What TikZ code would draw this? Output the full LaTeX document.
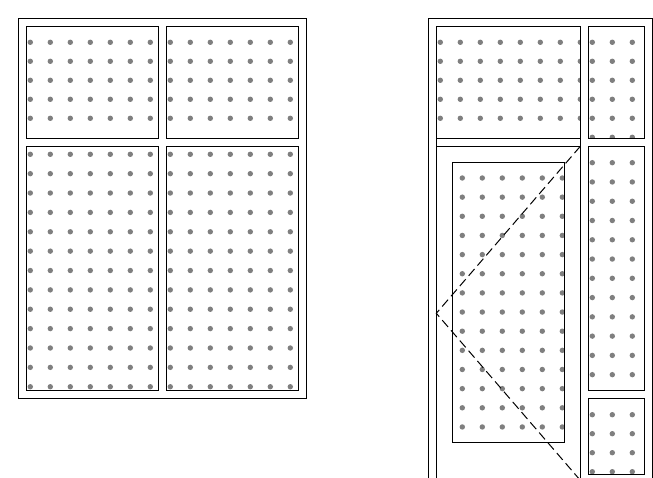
\documentclass[tikz,border=0pt]{standalone}
\definecolor{dotgray}{HTML}{7F7F7F}
\newcommand\dotpanel[9]{% clip x1 y1 x2 y2 | first x | ncols | first y | step y | nrows
  \begin{scope}
    \clip (#1,#2) rectangle (#3,#4);
    \foreach \i in {0,...,#6}
      \foreach \j in {0,...,#9}
        \fill[dotgray] ({#5+20*\i},{#7+#8*\j}) circle[radius=2.7pt];
  \end{scope}}
\begin{document}
\begin{tikzpicture}[x=1pt,y=-1pt,
  frame/.style={draw=black, line width=1.2pt},
  swing/.style={draw=black, line width=1pt, dash pattern=on 9pt off 4.5pt}]
\useasboundingbox (0,0) rectangle (653,478);
\fill[white] (0,0) rectangle (653,478);

% ---------- left elevation: dots ----------
\dotpanel{26.3}{26.3}{158.3}{138.3}{30.3}{7}{42.3}{19}{4}
\dotpanel{166.3}{26.3}{298.7}{138.3}{170.3}{6}{42.3}{19}{4}
\dotpanel{26.3}{146.3}{158.3}{390.3}{30.3}{7}{154.3}{19.37}{12}
\dotpanel{166.3}{146.3}{298.7}{390.3}{170.3}{6}{154.3}{19.37}{12}

% ---------- left elevation: frames ----------
\draw[frame] (18.3,18.3) rectangle (306.3,398.3);
\draw[frame] (26.3,26.3) rectangle (158.3,138.3);
\draw[frame] (166.3,26.3) rectangle (298.7,138.3);
\draw[frame] (26.3,146.3) rectangle (158.3,390.3);
\draw[frame] (166.3,146.3) rectangle (298.7,390.3);

% ---------- right elevation: dots ----------
\dotpanel{436.3}{26.3}{580.3}{138.3}{440.3}{7}{42.3}{19}{4}
\dotpanel{588.3}{26.3}{644.3}{138.3}{592.3}{2}{42.3}{19}{5}
\dotpanel{588.3}{146.3}{644.3}{390.3}{592.3}{2}{162.7}{19.27}{11}
\dotpanel{588.3}{398.3}{644.3}{474.3}{592.3}{2}{414.7}{19}{3}
\dotpanel{452.3}{162.3}{564.3}{442.3}{462.3}{5}{178}{19.15}{13}

% ---------- right elevation: frames ----------
\draw[frame] (428.3,490) -- (428.3,18.3) -- (652.3,18.3) -- (652.3,490);
\draw[frame] (436.3,490) -- (436.3,26.3) -- (580.3,26.3) -- (580.3,490);
\draw[frame] (436.3,138.3) -- (580.3,138.3);
\draw[frame] (436.3,146.3) -- (580.3,146.3);
\draw[frame] (588.3,26.3) rectangle (644.3,138.3);
\draw[frame] (588.3,146.3) rectangle (644.3,390.3);
\draw[frame] (588.3,398.3) rectangle (644.3,474.3);
\draw[frame] (452.3,162.3) rectangle (564.3,442.3);

% ---------- door swing ----------
\coordinate (swingtop) at (580.3,146.3);
\coordinate (hinge) at (436.3,313.3);
\coordinate (swingbot) at (580.3,480.3);
\draw[swing] (swingtop) -- (hinge) -- (swingbot);
\end{tikzpicture}
\end{document}
